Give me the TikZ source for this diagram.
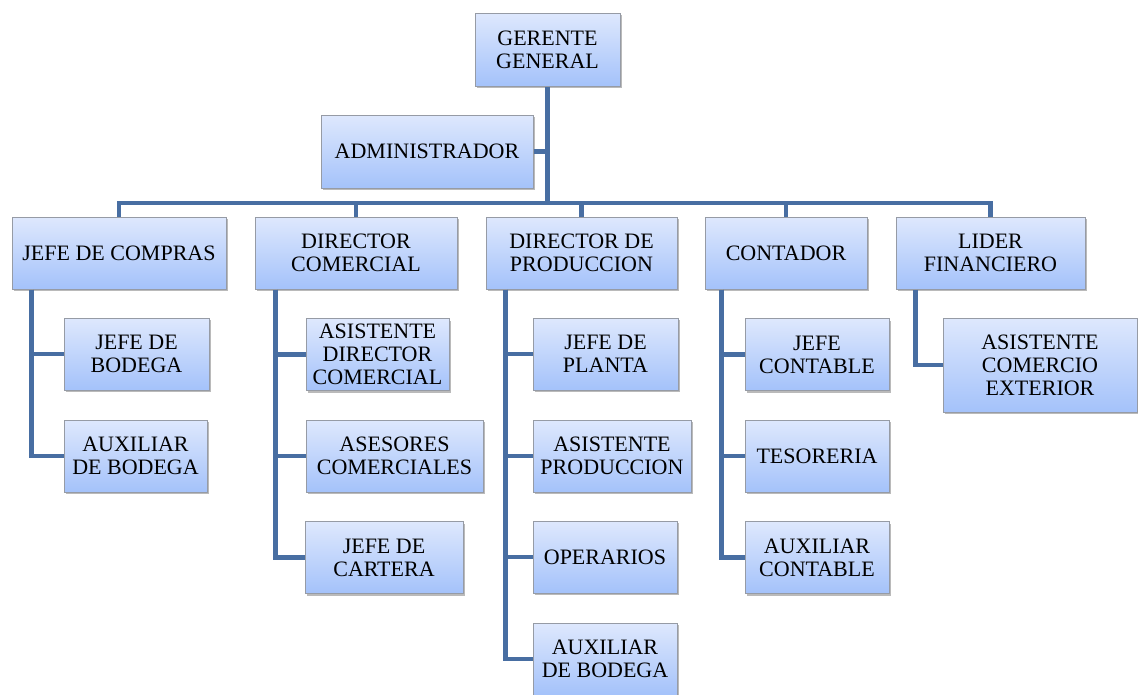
\documentclass[tikz,border=0pt]{standalone}
\usepackage{fontspec}
\setmainfont{Liberation Serif}
\usepackage{tikz}
\usetikzlibrary{shadows}
\usetikzlibrary{positioning}

\definecolor{cajaarriba}{RGB}{222,232,253}
\definecolor{cajaabajo}{RGB}{164,194,250}
\definecolor{borde}{RGB}{150,155,165}
\definecolor{linea}{RGB}{72,110,162}

\tikzset{
    cargo/.style={draw=borde, line width=1pt, top color=cajaarriba, bottom color=cajaabajo,
        align=center, minimum height=72pt, inner sep=2pt,
        font=\fontsize{22}{23}\selectfont,
        drop shadow={shadow xshift=2pt, shadow yshift=-2pt, opacity=0.45, fill=black!60}},
    enlace/.style={draw=linea, line width=4.5pt}
}

\begin{document}
\begin{tikzpicture}[x=1pt,y=-1pt]
    \useasboundingbox (0,0) rectangle (1138,694);

    % nivel superior
    \node[cargo, minimum width=145pt, minimum height=73pt] (gerente) at (547.5,49.5) {GERENTE\\GENERAL};
    \node[cargo, minimum width=212pt, minimum height=73pt] (admin) at (427,151.5) {ADMINISTRADOR};

    % jefes
    \node[cargo, minimum width=214pt] (compras) at (119,253) {JEFE DE COMPRAS};
    \node[cargo, minimum width=202pt] (comercial) at (356,253) {DIRECTOR\\COMERCIAL};
    \node[cargo, minimum width=191pt] (produccion) at (581.5,253) {DIRECTOR DE\\PRODUCCION};
    \node[cargo, minimum width=162pt] (contador) at (786,253) {CONTADOR};
    \node[cargo, minimum width=189pt] (lider) at (990.5,253) {LIDER\\FINANCIERO};

    % compras
    \node[cargo, minimum width=145pt] (bodega) at (136.5,354) {JEFE DE\\BODEGA};
    \node[cargo, minimum width=143pt] (auxbodega) at (135.5,456) {AUXILIAR\\DE BODEGA};

    % comercial
    \node[cargo, minimum width=143pt] (asisdir) at (377.5,354.5) {ASISTENTE\\DIRECTOR\\COMERCIAL};
    \node[cargo, minimum width=177pt] (asesores) at (394.5,456) {ASESORES\\COMERCIALES};
    \node[cargo, minimum width=158pt] (cartera) at (384,557.5) {JEFE DE\\CARTERA};

    % produccion
    \node[cargo, minimum width=145pt] (planta) at (605.5,354) {JEFE DE\\PLANTA};
    \node[cargo, minimum width=158pt] (asisprod) at (612,456) {ASISTENTE\\PRODUCCION};
    \node[cargo, minimum width=144pt] (operarios) at (605,557) {OPERARIOS};
    \node[cargo, minimum width=144pt] (auxplanta) at (605,659) {AUXILIAR\\DE BODEGA};

    % contador
    \node[cargo, minimum width=144pt] (jefecont) at (817,354.5) {JEFE\\CONTABLE};
    \node[cargo, minimum width=144pt] (tesoreria) at (817,456) {TESORERIA};
    \node[cargo, minimum width=144pt] (auxcont) at (817,557.5) {AUXILIAR\\CONTABLE};

    % lider
    \node[cargo, minimum width=194pt, minimum height=94pt] (comext) at (1040,365) {ASISTENTE\\COMERCIO\\EXTERIOR};

    % lineas
    \coordinate (bus) at (547.5,203);
    \draw[enlace] (gerente.south) -- (bus);
    \draw[enlace] (admin.east) -- (admin.east -| bus);
    \draw[enlace] (compras.north) |- (bus) -| (lider.north);
    \draw[enlace] (comercial.north) -- (comercial.north |- bus);
    \draw[enlace] (produccion.north) -- (produccion.north |- bus);
    \draw[enlace] (contador.north) -- (contador.north |- bus);

    \draw[enlace] ([xshift=20pt]compras.south west) |- (bodega.west);
    \draw[enlace] ([xshift=20pt]compras.south west) |- (auxbodega.west);
    \draw[enlace] ([xshift=21pt]comercial.south west) |- (asisdir.west);
    \draw[enlace] ([xshift=21pt]comercial.south west) |- (asesores.west);
    \draw[enlace] ([xshift=21pt]comercial.south west) |- (cartera.west);
    \draw[enlace] ([xshift=20pt]produccion.south west) |- (planta.west);
    \draw[enlace] ([xshift=20pt]produccion.south west) |- (asisprod.west);
    \draw[enlace] ([xshift=20pt]produccion.south west) |- (operarios.west);
    \draw[enlace] ([xshift=20pt]produccion.south west) |- (auxplanta.west);
    \draw[enlace] ([xshift=17pt]contador.south west) |- (jefecont.west);
    \draw[enlace] ([xshift=17pt]contador.south west) |- (tesoreria.west);
    \draw[enlace] ([xshift=17pt]contador.south west) |- (auxcont.west);
    \draw[enlace] ([xshift=20pt]lider.south west) |- (comext.west);
\end{tikzpicture}
\end{document}
